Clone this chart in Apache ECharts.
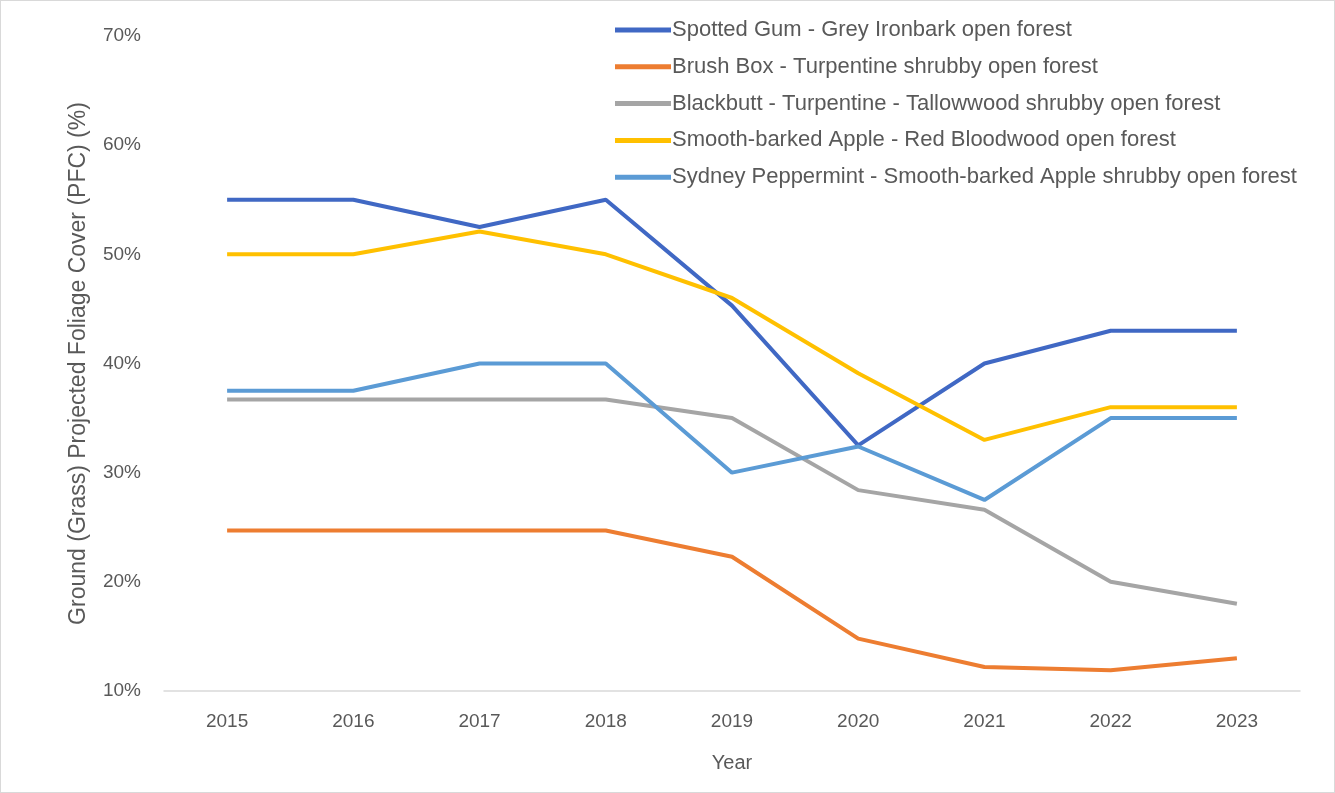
<!DOCTYPE html>
<html>
<head>
<meta charset="utf-8">
<script src="https://cdn.jsdelivr.net/npm/echarts@6/dist/echarts.min.js"></script>
<style>
  html, body { margin: 0; padding: 0; background: #fff; }
  #chart { width: 1335px; height: 793px; box-sizing: border-box; border: 1px solid #d9d9d9; }
</style>
</head>
<body>
<div id="chart"></div>
<script>
const years = ['2015', '2016', '2017', '2018', '2019', '2020', '2021', '2022', '2023']

const seriesNames = [
  'Spotted Gum - Grey Ironbark open forest',
  'Brush Box - Turpentine shrubby open forest',
  'Blackbutt - Turpentine - Tallowwood shrubby open forest',
  'Smooth-barked Apple - Red Bloodwood open forest',
  'Sydney Peppermint - Smooth-barked Apple shrubby open forest',
]

// percent values
const spottedGum = [55, 55, 52.5, 55, 45.3, 32.5, 40, 43, 43]
const brushBox = [24.7, 24.7, 24.7, 24.7, 22.3, 14.8, 12.2, 11.9, 13]
const blackbutt = [36.7, 36.7, 36.7, 36.7, 35, 28.4, 26.6, 20, 18]
const smoothApple = [50, 50, 52.1, 50, 46, 39.1, 33, 36, 36]
const sydneyPeppermint = [37.5, 37.5, 40, 40, 30, 32.4, 27.5, 35, 35]

const colors = ['#4068C4', '#ED7D31', '#A5A5A5', '#FFC000', '#5B9BD5']
const values = [spottedGum, brushBox, blackbutt, smoothApple, sydneyPeppermint]

const font = 'Liberation Sans, Arial, sans-serif'
const chart = echarts.init(document.getElementById('chart'))

chart.setOption({
  animation: false,
  color: colors,
  textStyle: { fontFamily: font },
  grid: { left: 163, right: 34, top: 35, bottom: 101, containLabel: false },
  legend: {
    orient: 'vertical',
    left: 609,
    top: 13,
    icon: 'rect',
    itemWidth: 56,
    itemHeight: 5,
    itemGap: 14.8,
    textStyle: { color: '#595959', fontSize: 22, lineHeight: 22, fontFamily: font, padding: [0, 0, 0, -4] },
    data: seriesNames,
  },
  xAxis: {
    type: 'category',
    data: years,
    boundaryGap: true,
    name: 'Year',
    nameLocation: 'middle',
    nameGap: 62,
    nameTextStyle: { color: '#595959', fontSize: 20 },
    axisLine: { lineStyle: { color: '#d9d9d9', width: 1.5 } },
    axisTick: { show: false },
    axisLabel: { color: '#595959', fontSize: 19, margin: 21 },
  },
  yAxis: {
    type: 'value',
    min: 10,
    max: 70,
    interval: 10,
    name: 'Ground (Grass) Projected Foliage Cover (PFC) (%)',
    nameLocation: 'middle',
    nameGap: 74,
    nameTextStyle: { color: '#595959', fontSize: 23 },
    axisLine: { show: false },
    axisTick: { show: false },
    splitLine: { show: false },
    axisLabel: { color: '#595959', fontSize: 19, margin: 23, formatter: v => v + '%' },
  },
  series: seriesNames.map((name, i) => ({
    name,
    type: 'line',
    data: values[i],
    symbol: 'none',
    lineStyle: { width: 4, color: colors[i] },
    itemStyle: { color: colors[i] },
  })),
})
</script>
</body>
</html>
